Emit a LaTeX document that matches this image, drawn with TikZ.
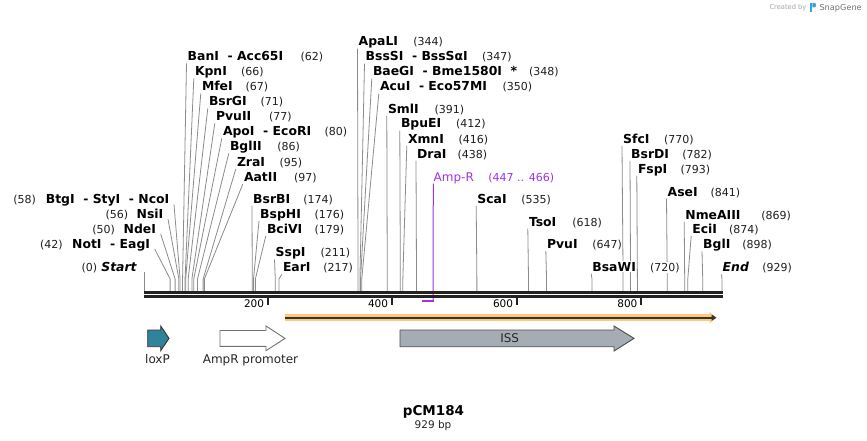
\documentclass[tikz,border=0pt]{standalone}
\usepackage{fontspec}
\setmainfont{DejaVu Sans}
\usetikzlibrary{arrows.meta}
\pgfdeclarelayer{bg}
\pgfdeclarelayer{bgbase}
\pgfsetlayers{bgbase,bg,main}
\definecolor{connc}{RGB}{140,140,140}
\definecolor{rulec}{RGB}{34,34,34}
\definecolor{purp}{RGB}{160,50,230}
\definecolor{orangeb}{RGB}{253,201,122}
\definecolor{tealf}{RGB}{49,131,154}
\definecolor{issf}{RGB}{166,172,180}
\definecolor{sgblue}{RGB}{58,160,224}
\tikzset{
  nm/.style={font=\fontsize{12.4}{14}\selectfont\bfseries, inner sep=0.5pt, fill=white, anchor=base west},
  nmL/.style={nm, anchor=base east},
  num/.style={font=\fontsize{11}{13}\selectfont, inner sep=0.5pt, fill=white, anchor=base west, text=black!88},
  conn/.style={draw=connc, line width=0.8pt},
  flab/.style={font=\fontsize{12}{14}\selectfont, inner sep=0pt, anchor=base, text=black!85},
  ticklab/.style={font=\fontsize{10.5}{12}\selectfont, inner sep=0pt, anchor=base east},
  featbox/.style={line width=0.9pt, line join=miter},
}
\newcommand\enzR[6]{%
  \coordinate (p#1) at ({144+0.6222*#6},291);
  \node[nm] (n#1) at (#3,#4) {#2};
  \node[num] (m#1) at (#5,#4) {(#6)};
  \begin{pgfonlayer}{bg}
  \draw[conn] ([xshift=-0.5pt,yshift=-2.6pt]n#1.base west) -- ([yshift=12pt]p#1) -- (p#1);
  \end{pgfonlayer}}
\newcommand\enzL[6]{%
  \coordinate (p#1) at ({144+0.6222*#6},291);
  \node[nmL] (n#1) at (#3,#4) {#2};
  \node[num] (m#1) at (#5,#4) {(#6)};
  \begin{pgfonlayer}{bg}
  \draw[conn] ([xshift=4pt,yshift=-1pt]n#1.base east) -- ([yshift=12pt]p#1) -- (p#1);
  \end{pgfonlayer}}
\begin{document}
\begin{tikzpicture}[x=1pt,y=-1pt]
\useasboundingbox (0,0) rectangle (867,441);
\begin{pgfonlayer}{bgbase}
\fill[white] (0,0) rectangle (867,441);
\end{pgfonlayer}

% top-left stack
\enzR{62}{BanI\ \ - Acc65I}{187}{60.7}{300}{62}
\enzR{66}{KpnI}{194.3}{75.7}{240.5}{66}
\enzR{67}{MfeI}{201.3}{90.7}{245}{67}
\enzR{71}{BsrGI}{208.3}{105.7}{260}{71}
\enzR{77}{PvuII}{215.3}{120.7}{268.3}{77}
\enzR{80}{ApoI\ \ - EcoRI}{222.3}{135.7}{324}{80}
\enzR{86}{BglII}{229.3}{150.7}{276.7}{86}
\enzR{95}{ZraI}{236.3}{166.3}{279}{95}
\enzR{97}{AatII}{243.3}{181.5}{293.3}{97}
% middle-left
\enzR{174}{BsrBI}{252.5}{203.3}{302.7}{174}
\enzR{176}{BspHI}{259.5}{218.3}{314}{176}
\enzR{179}{BciVI}{266.3}{233.3}{314}{179}
\enzR{211}{SspI}{275}{256.7}{320}{211}
\enzR{217}{EarI}{282.3}{271.7}{322.7}{217}
% left side labels
\enzL{58}{BtgI\ \ - StyI\ \ - NcoI}{170}{203.3}{12.7}{58}
\enzL{56}{NsiI}{164}{218}{105}{56}
\enzL{50}{NdeI}{156.7}{233}{91.7}{50}
\enzL{42}{NotI\ \ - EagI}{150.7}{248}{39.3}{42}
\coordinate (p0) at (144,291);
\node[nmL] (n0) at (137.3,271.7) {\itshape Start};
\node[num] (m0) at (81,271.7) {(0)};
\begin{pgfonlayer}{bg}
\draw[conn] (p0 |- n0.base) -- (p0);
\end{pgfonlayer}
% top middle
\enzR{344}{ApaLI}{358}{46}{412.7}{344}
\enzR{347}{BssSI\ \ - BssSαI}{365}{61}{481.5}{347}
\enzR{348}{BaeGI\ \ - Bme1580I\ \ *}{372.3}{76}{528.5}{348}
\enzR{350}{AcuI\ \ - Eco57MI}{379.3}{91}{502}{350}
\enzR{391}{SmlI}{387.3}{113.3}{434}{391}
\enzR{412}{BpuEI}{400.3}{128}{455.5}{412}
\enzR{416}{XmnI}{407.3}{143}{458}{416}
\enzR{438}{DraI}{416.5}{158}{457}{438}
% right part
\enzR{535}{ScaI}{476.7}{203.3}{520.7}{535}
\enzR{618}{TsoI}{528.3}{226}{571.7}{618}
\enzR{647}{PvuI}{546.3}{248.3}{591.7}{647}
\enzR{770}{SfcI}{622.5}{143.3}{663.3}{770}
\enzR{782}{BsrDI}{630.5}{158.3}{681.7}{782}
\enzR{793}{FspI}{637.3}{173.3}{680}{793}
\enzR{720}{BsaWI}{591.7}{271}{649.3}{720}
\enzR{841}{AseI}{667}{196}{710}{841}
\enzR{869}{NmeAIII}{684.7}{219}{760.7}{869}
\enzR{874}{EciI}{691.7}{233.3}{728.3}{874}
\enzR{898}{BglI}{702.5}{248.7}{741.7}{898}
\enzR{929}{\itshape End}{722}{271.7}{761.7}{929}

% Amp-R feature
\node[font=\fontsize{12}{14}\selectfont, text=purp, inner sep=0.5pt, anchor=base west] (amp) at (433,181) {Amp-R};
\node[font=\fontsize{11}{13}\selectfont, text=purp, inner sep=0.5pt, anchor=base west] (ampn) at (487.7,181) {(447 .. 466)};
\coordinate (ampE) at (433.5,300.7);
\coordinate (ampS) at (422.1,300.7);
\begin{pgfonlayer}{bg}
\draw[purp, line width=1pt] ([xshift=0.3pt,yshift=-2.6pt]amp.base west) -- (amp.base west |- ampE);
\end{pgfonlayer}
\draw[purp, line width=1.8pt] (ampE) -- (ampS);

% ruler
\coordinate (rL) at (144,292.3);
\coordinate (rR) at (722.5,292.3);
\draw[rulec, line width=2.6pt] (rL) -- (rR);
\draw[rulec, line width=2.6pt] ([yshift=-4pt]rL) -- ([yshift=-4pt]rR);
\foreach \t/\xx in {200/267.7,400/391.7,600/516.7,800/641} {
  \draw[rulec, line width=1.8pt] (\xx,297) -- (\xx,305);
  \node[ticklab] at (\xx-3.4,307.5) {\t};
}

% orange ORF line
\coordinate (oS) at (285.3,317.7);
\coordinate (oE) at (716.5,317.7);
\draw[orangeb, line width=6.5pt, -{Triangle[length=7pt,width=11pt]}] (oS) -- (oE);
\draw[black!80, line width=1.8pt, -{Triangle[length=5pt,width=6pt]}] (oS) -- (oE);

% features
\draw[featbox, fill=tealf, draw=black!80] (147.7,330) -- (160.7,330) -- (160.7,326) -- (169,338.4) -- (160.7,350.7) -- (160.7,346.7) -- (147.7,346.7) -- cycle;
\draw[featbox, fill=white, draw=black!55] (220,330.5) -- (266,330.5) -- (266,326) -- (285,338.4) -- (266,350.7) -- (266,346.3) -- (220,346.3) -- cycle;
\draw[featbox, fill=issf, draw=black!70] (400,330) -- (614,330) -- (614,326) -- (634,338.4) -- (614,351) -- (614,346.7) -- (400,346.7) -- cycle;
\node[flab] (loxlab) at (157.5,363.3) {loxP};
\node[flab] (amplab) at (250.5,363.3) {AmpR promoter};
\node[flab] (isslab) at (509.7,342.3) {ISS};

% title
\node[font=\fontsize{13.5}{16}\selectfont\bfseries, inner sep=0pt, anchor=base] (title) at (433.5,415) {pCM184};
\node[font=\fontsize{10.5}{12}\selectfont, inner sep=0pt, anchor=base, text=black!85] (bp) at (433,428.5) {929 bp};

% SnapGene mark
\node[font=\fontsize{6.7}{8}\selectfont, text=black!35, inner sep=0pt, anchor=base west] (cb) at (769.3,9.8) {Created by};
\fill[sgblue] (810,2.8) rectangle (812.3,12.3);
\fill[sgblue] (812.3,2.8) -- (814.5,2.8) .. controls (816.5,2.8) and (816.5,7.5) .. (814.5,7.5) -- (812.3,7.5) -- cycle;
\node[font=\fontsize{8.2}{10}\selectfont, text=black!55, inner sep=0pt, anchor=base west] (sg) at (819.3,10.3) {SnapGene};
\end{tikzpicture}
\end{document}
